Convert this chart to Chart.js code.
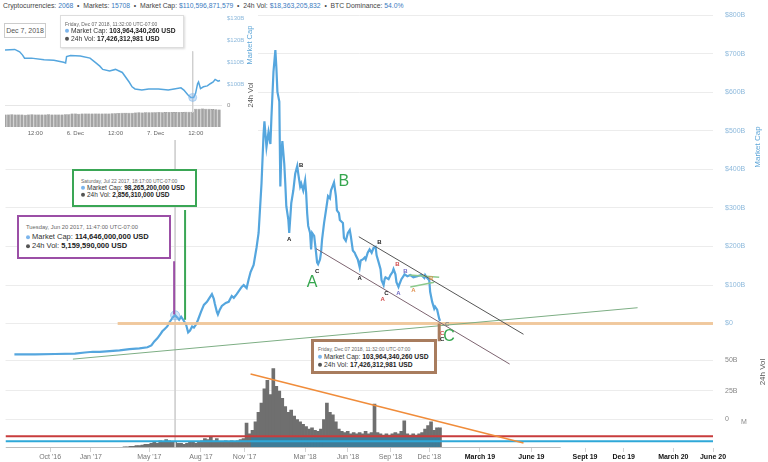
<!DOCTYPE html>
<html>
<head>
<meta charset="utf-8">
<script src="https://cdn.jsdelivr.net/npm/chart.js@4.4.1/dist/chart.umd.min.js"></script>
<style>
  html, body { margin: 0; padding: 0; background: #fff; }
  body { width: 768px; height: 462px; position: relative; overflow: hidden;
         font-family: "Liberation Sans", Arial, sans-serif; }
  #main { position: absolute; left: 0; top: 0; }
  #inset { position: absolute; left: 0; top: 12px; background: #fff; }
  #header { position: absolute; left: 0; top: 0; height: 12px; line-height: 12px; padding: 0 3px;
            font-size: 6.8px; color: #444; background: #fff; white-space: nowrap; }
  #header b { color: #3b7bc0; font-weight: normal; }
  .box { position: absolute; background: #fff; box-sizing: border-box; }
  .box div { position: absolute; white-space: nowrap; line-height: 1; transform: translateY(-50%); color: #333; }
  .box .d { color: #666; }
  .box b { color: #222; }
  .dot { display: inline-block; width: 4px; height: 4px; border-radius: 50%; margin-right: 2px; vertical-align: middle; }
  .mc { background: #7cb5ec; }
  .vo { background: #555; }
  .vt { position: absolute; white-space: nowrap; transform: translate(-50%, -50%) rotate(-90deg); }
  .datebox { position: absolute; left: 4px; top: 23px; width: 42px; height: 15px; box-sizing: border-box;
             border: 1px solid #ccc; font-size: 7px; color: #555; text-align: center; line-height: 13px; background: #fff; }
</style>
</head>
<body>
<canvas id="main" width="768" height="462"></canvas>
<canvas id="inset" width="258" height="128"></canvas>

<div id="header">Cryptocurrencies: <b>2068</b> &nbsp;•&nbsp; Markets: <b>15708</b> &nbsp;•&nbsp; Market Cap: <b>$110,596,871,579</b> &nbsp;•&nbsp; 24h Vol: <b>$18,363,205,832</b> &nbsp;•&nbsp; BTC Dominance: <b>54.0%</b></div>

<div class="datebox">Dec 7, 2018</div>
<div class="box" style="left:60px;top:15px;width:124px;height:33px;border:1px solid #ddd;box-shadow:1px 1px 2px rgba(0,0,0,.15)">
  <div class="d" style="left:4px;top:8px;font-size:5px">Friday, Dec 07 2018, 11:32:00 UTC-07:00</div>
  <div style="left:4px;top:15px;font-size:6.7px"><span class="dot mc"></span>Market Cap: <b>103,964,340,260 USD</b></div>
  <div style="left:4px;top:23px;font-size:6.7px"><span class="dot vo"></span>24h Vol: <b>17,426,312,981 USD</b></div>
</div>
<div class="vt" style="left:249px;top:45px;font-size:7.5px;color:#5ea6d8">Market Cap</div>
<div class="vt" style="left:250px;top:95px;font-size:7.5px;color:#555">24h Vol</div>

<div class="box" style="left:72px;top:169px;width:125px;height:38px;border:2px solid #3aa655">
  <div class="d" style="left:7px;top:10px;font-size:5px">Saturday, Jul 22 2017, 18:17:00 UTC-07:00</div>
  <div style="left:7px;top:17px;font-size:6.5px"><span class="dot mc"></span>Market Cap: <b>98,265,200,000 USD</b></div>
  <div style="left:7px;top:24px;font-size:6.5px"><span class="dot vo"></span>24h Vol: <b>2,856,310,000 USD</b></div>
</div>
<div class="box" style="left:17px;top:215px;width:154px;height:44px;border:2px solid #9b4fa6">
  <div class="d" style="left:7px;top:11px;font-size:5.8px">Tuesday, Jun 20 2017, 11:47:00 UTC-07:00</div>
  <div style="left:7px;top:20px;font-size:7.5px"><span class="dot mc"></span>Market Cap: <b>114,646,000,000 USD</b></div>
  <div style="left:7px;top:29px;font-size:7.5px"><span class="dot vo"></span>24h Vol: <b>5,159,590,000 USD</b></div>
</div>
<div class="box" style="left:311px;top:339px;width:126px;height:35px;border:3px solid #a87c5e">
  <div class="d" style="left:4px;top:7px;font-size:5px">Friday, Dec 07 2018, 11:32:00 UTC-07:00</div>
  <div style="left:4px;top:15px;font-size:6.7px"><span class="dot mc"></span>Market Cap: <b>103,964,340,260 USD</b></div>
  <div style="left:4px;top:23px;font-size:6.7px"><span class="dot vo"></span>24h Vol: <b>17,426,312,981 USD</b></div>
</div>

<div class="vt" style="left:757px;top:147px;font-size:8px;color:#5ea6d8">Market Cap</div>
<div class="vt" style="left:762px;top:372px;font-size:8px;color:#555">24h Vol</div>
<div style="position:absolute;left:741px;top:418px;font-size:7px;color:#888">M</div>

<script>
  'use strict';

  // ---- main chart: months after 1 Oct 2016 on x ----
  const xTickVals = [0, 2.79, 6.80, 10.34, 13.33, 17.48, 20.41, 23.33, 25.99, 29.46, 32.99, 36.67, 39.32, 42.72, 45.44];
  const xTickLabels = ["Oct '16", "Jan '17", "May '17", "Aug '17", "Nov '17", "Mar '18", "Jun '18", "Sep '18", "Dec '18",
                       'March 19', 'June 19', 'Sept 19', 'Dec 19', 'March 20', 'June 20'];

  // right-hand labels (market cap grid, then the volume grid below it)
  const mcTickVals = [800, 700, 600, 500, 400, 300, 200, 100, 0];
  const mcTickLabels = ['$800B', '$700B', '$600B', '$500B', '$400B', '$300B', '$200B', '$100B', '$0'];
  const volGridVals = [-94.9, -174.4, -248.7];
  const volGridLabels = ['50B', '25B', '0'];

  // total market cap, billions USD
  const mcMonths = [-2.45,-1.02,0.34,1.70,2.38,2.93,3.40,4.08,4.76,5.44,
    6.12,6.67,6.94,7.14,7.35,7.55,7.69,7.82,8.03,8.16,
    8.30,8.44,8.57,8.71,8.84,8.98,9.12,9.32,9.46,9.59,
    9.73,9.86,10.00,10.14,10.34,10.54,10.75,10.88,11.09,11.22,
    11.29,11.43,11.50,11.63,11.77,12.04,12.24,12.45,12.59,12.79,
    12.99,13.13,13.27,13.47,13.61,13.74,13.95,14.15,14.29,14.49,
    14.63,14.69,14.83,14.97,15.10,15.17,15.31,15.44,15.51,15.58,
    15.71,15.78,15.85,15.92,16.05,16.12,16.19,16.33,16.39,16.53,
    16.67,16.80,16.94,17.01,17.14,17.21,17.35,17.48,17.55,17.62,
    17.69,17.82,17.89,17.96,18.10,18.23,18.30,18.37,18.50,18.57,
    18.64,18.78,18.91,19.05,19.18,19.25,19.46,19.59,19.66,19.80,
    19.86,20.07,20.14,20.27,20.41,20.54,20.61,20.75,20.88,20.95,
    21.09,21.22,21.29,21.43,21.56,21.63,21.77,21.90,22.04,22.18,
    22.31,22.38,22.52,22.65,22.72,22.86,22.93,22.99,23.20,23.33,
    23.47,23.54,23.67,23.74,23.88,23.95,24.08,24.22,24.29,24.49,
    24.69,24.90,25.17,25.44,25.65,25.71,25.85,25.99,26.05,26.19,
    26.33,26.39,26.53,26.67,26.73];
  const mcValues = [10,10,11,12,15,17,17,19,21,24,
    26,29,34,45,53,64,72,77,85,95,
    103,111,115,109,103,111,103,90,69,74,
    85,82,90,103,124,143,151,159,172,159,
    146,124,117,130,140,148,151,167,162,172,
    183,191,196,188,212,231,250,297,336,469,
    601,636,567,607,575,647,769,827,779,715,
    689,461,548,583,522,469,408,371,336,416,
    450,495,516,495,461,469,450,477,443,389,
    355,336,292,336,328,283,257,252,265,283,
    318,363,397,435,429,450,472,435,397,389,
    371,363,323,315,336,344,328,289,283,276,
    265,244,262,265,270,265,283,292,283,297,
    299,276,257,239,209,196,212,217,212,223,
    231,239,225,204,191,199,212,220,225,220,
    223,217,220,223,215,223,215,209,178,151,
    133,138,130,106,100];

  // 24h volume, billions USD, one bar every ~6 days from mid Feb 2017
  const volStart = 5.10;
  const volStep = 0.204;
  const volValues = [1,1,1.5,1.5,2,2,2.5,3,
    3,4,5,4,6,5,7,6,5,
    5,4,4,3,4,5,5,4,5,6,8,7,9,6,8,5,5,6,5,6,5,6,7,8,
    21,12,15,22,30,38,50,57,45,67,
    52,48,42,35,30,32,27,24,22,20,
    18,16,17,15,14,16,24,38,30,28,
    22,16,14,13,14,12,13,12,13,12,
    14,12,13,37,13,12,11,12,11,12,
    13,12,14,23,12,11,12,11,12,13,
    16,19,22,15,17,17];

  // hand-drawn annotation lines, [month, value]
  const capFloor = [[4.63, 92.8], [45.44, 92.8]];
  const longTrend = [[1.56, -2.7], [40.27, 135.3]];
  const channelUpper = [[21.16, 326], [32.45, 64]];
  const channelLower = [[18.23, 294], [31.50, -16]];
  const flagTop = [[24.63, 223], [26.67, 217]];
  const flagBottom = [[24.69, 191], [26.33, 204]];
  const junDrop = [[8.50, 260], [8.50, 117]];
  const julDrop = [[9.25, 398], [9.25, 103]];
  const decDrop = [[26.67, 93], [26.67, 45]];
  const hoverMark = [[8.57, 115]];
  const crossHair = [[8.57, 261], [8.57, 0]];
  const volTrend = [[13.74, 62.5], [32.45, 4.2]];
  const volRed = [[-3.06, 10], [45.44, 10]];
  const volCyan = [[-3.06, 5.8], [45.44, 5.8]];
  const volBand = [[13.74, 9], [26.75, 9]];
  const volBase = [[-3.06, 0], [35.0, 0]];

  // Elliott wave letters
  const waveText = ['B','A','C','A','B','C','B','A','B','A','A','B','C','C','C','B','A','C'];
  const waveX = [17.21,16.39,18.30,21.22,22.58,23.06,23.81,22.79,24.35,23.88,24.90,26.12,27.21,26.87,26.87,20.14,17.96,27.35];
  const waveY = [517,318,233,215,310,175,252,159,233,175,183,215,90,66,50,475,202,58];
  const waveDegree = ['k','k','k','k','k','k','r','r','p','p','o','o','g','r','k','G','G','G'];

  // ---- inset: hours after 5 Dec 2018 00:00 ----
  const insetTickVals = [12, 24, 36, 48, 60];
  const insetTickLabels = ['12:00', '6. Dec', '12:00', '7. Dec', '12:00'];
  const insetAxisVals = [130, 120, 110, 100, 90.3];
  const insetAxisLabels = ['$130B', '$120B', '$110B', '$100B', '0'];
  const insetHours = [2.95,5.87,7.33,8.21,8.80,10.84,14.64,17.57,20.49,21.08,
    21.37,22.54,25.46,28.39,30.14,31.31,32.19,34.23,35.99,38.04,
    40.08,40.96,41.84,43.88,45.93,48.85,51.78,53.53,55.58,56.46,
    57.63,58.50,59.38,59.96,60.55,60.84,61.43,62.30,63.47,64.35,
    65.23,65.81,66.69,67.27];
  const insetCap = [115.6,115.9,114.8,113.3,111.9,111.9,111.1,110.9,110.0,109.7,
    112.6,113.1,112.9,111.9,109.7,108.2,106.7,106.0,106.7,105.3,
    100.9,98.7,97.7,97.2,97.7,97.7,97.2,97.7,98.2,97.2,
    95.0,93.8,93.8,95.7,100.1,100.9,97.9,98.7,99.1,100.1,
    100.9,102.1,101.3,101.6];
  const insetVolStart = 3;
  const insetVol = [13,13,13.2,13,13.1,13,12.9,13,13.2,13.1,13,13,13.1,13.2,13,13,13.1,13,13.2,13.3,
    14,14,13.8,14,14.1,14,14,14.2,14,14.1,14,14.2,14.3,14.5,14.6,14.8,15,15,
    15,15.2,15.3,15.2,15.4,15.5,15.4,15.5,15.6,15.5,15.6,15.7,15.6,15.8,15.7,15.8,16,16,16,
    19,19.2,19.3,19.2,19,18.8,18.5,18.3];
  const insetCross = [[59.09, 115], [59.09, 86.8]];
  const insetMark = [[59.09, 93.8]];

  Chart.defaults.font.family = '"Liberation Sans", Arial, sans-serif';

  const waveStyles = {
    k: { color: '#222', font: 'bold 6px "Liberation Sans", Arial' },
    r: { color: '#d04848', font: 'bold 6px "Liberation Sans", Arial' },
    p: { color: '#6e68c4', font: 'bold 6px "Liberation Sans", Arial' },
    o: { color: '#e0904e', font: 'bold 6px "Liberation Sans", Arial' },
    g: { color: '#888', font: 'bold 6px "Liberation Sans", Arial' },
    G: { color: '#35a64e', font: '16px "Liberation Sans", Arial' },
  };

  function toXY(points) {
    return points.map((p) => ({ x: p[0], y: p[1] }));
  }

  function seg(points, axis, color, width, order) {
    return {
      type: 'line', data: toXY(points), yAxisID: axis,
      borderColor: color, borderWidth: width, pointRadius: 0, fill: false, order,
    };
  }

  // keep tick-label padding from shrinking the plot area
  function noPad(ax) {
    ax.paddingTop = 0;
    ax.paddingBottom = 0;
    ax.paddingLeft = 0;
    ax.paddingRight = 0;
  }

  const waveLabelPlugin = {
    id: 'waveLabels',
    afterDatasetsDraw(chart) {
      const { ctx, scales } = chart;
      ctx.save();
      ctx.textAlign = 'center';
      ctx.textBaseline = 'middle';
      waveText.forEach((t, i) => {
        const st = waveStyles[waveDegree[i]];
        ctx.font = st.font;
        ctx.fillStyle = st.color;
        ctx.fillText(t, scales.x.getPixelForValue(waveX[i]), scales.yMC.getPixelForValue(waveY[i]));
      });
      ctx.restore();
    },
  };

  const rightVals = mcTickVals.concat(volGridVals);
  const rightLabels = mcTickLabels.concat(volGridLabels);

  new Chart(document.getElementById('main'), {
    data: {
      datasets: [
        {
          type: 'bar', yAxisID: 'yV', order: 20,
          data: volValues.map((v, i) => ({ x: volStart + i * volStep, y: v })),
          backgroundColor: '#6f6f6f', barThickness: 3,
        },
        Object.assign(seg(volBand, 'yV', 'rgba(0,0,0,0)', 0, 19), { fill: 'origin', backgroundColor: 'rgba(58,125,155,0.9)' }),
        seg(crossHair, 'yV', '#d0d0d0', 1, 18),
        seg(volBase, 'yV', '#bdbdbd', 2, 18),
        {
          type: 'line', yAxisID: 'yMC', order: 10,
          data: mcMonths.map((m, i) => ({ x: m, y: mcValues[i] })),
          borderColor: '#55a6de', borderWidth: 2.2, pointRadius: 0, tension: 0, fill: false,
        },
        Object.assign(seg(hoverMark, 'yMC', 'rgba(124,181,236,0.6)', 1, 9),
          { pointRadius: 4.5, pointBackgroundColor: 'rgba(124,181,236,0.35)', pointBorderColor: 'rgba(124,181,236,0.6)' }),
        seg(capFloor, 'yMC', 'rgba(240,196,150,0.9)', 3, 8),
        seg(longTrend, 'yMC', '#7dae84', 1, 5),
        seg(channelUpper, 'yMC', '#555', 1, 4),
        seg(channelLower, 'yMC', '#7d6470', 1, 4),
        seg(flagTop, 'yMC', '#8cc98c', 1.5, 4),
        seg(flagBottom, 'yMC', '#8cc98c', 1.5, 4),
        seg(junDrop, 'yMC', '#9b4fa6', 2, 3),
        seg(julDrop, 'yMC', '#3aa655', 2, 3),
        seg(decDrop, 'yMC', '#a87c5e', 3, 3),
        seg(volTrend, 'yV', '#f08c3a', 1.5, 2),
        seg(volRed, 'yV', '#c83c3c', 2, 2),
        seg(volCyan, 'yV', '#2fa8d8', 2, 2),
      ],
    },
    options: {
      responsive: false, animation: false, events: [],
      layout: { padding: 0 },
      plugins: { legend: { display: false }, tooltip: { enabled: false } },
      scales: {
        x: {
          type: 'linear', min: -3.06, max: 45.44, offset: false,
          afterBuildTicks: (ax) => { ax.ticks = xTickVals.map((v) => ({ value: v })); },
          afterFit: (ax) => { ax.height = 14; noPad(ax); },
          ticks: {
            autoSkip: false, maxRotation: 0, padding: 1,
            callback: (v, i) => xTickLabels[i],
            color: (c) => (c.index >= 9 ? '#111' : '#777'),
            font: (c) => ({ size: 7, weight: c.index >= 9 ? 'bold' : 'normal' }),
          },
          grid: { drawOnChartArea: false, tickLength: 4, color: '#d4d4d4', offset: false },
          border: { display: false },
        },
        yR: {
          type: 'linear', position: 'right', min: -323.08, max: 825.64,
          afterBuildTicks: (ax) => { ax.ticks = rightVals.map((v) => ({ value: v })); },
          afterFit: (ax) => { ax.width = 55; noPad(ax); },
          ticks: {
            autoSkip: false, padding: 12,
            callback: (v, i) => rightLabels[i],
            color: (c) => (c.index >= mcTickVals.length ? '#888' : '#8db9dc'),
            font: { size: 7 },
          },
          grid: { color: '#ececec', drawTicks: false },
          border: { display: false },
        },
        yMC: { type: 'linear', display: false, min: -241.4, max: 946.9 },
        yV: { type: 'linear', display: false, min: 0, max: 373.33 },
      },
    },
    plugins: [waveLabelPlugin],
  });

  new Chart(document.getElementById('inset'), {
    data: {
      datasets: [
        {
          type: 'bar', yAxisID: 'yIV', order: 10,
          data: insetVol.map((v, i) => ({ x: insetVolStart + i, y: v })),
          backgroundColor: '#a3a3a3', borderColor: '#7a7a7a', borderWidth: 0.5,
          barPercentage: 0.95, categoryPercentage: 1,
        },
        seg(insetCross, 'yIM', '#cfcfcf', 1, 8),
        {
          type: 'line', yAxisID: 'yIM', order: 5,
          data: insetHours.map((h, i) => ({ x: h, y: insetCap[i] })),
          borderColor: '#55a6de', borderWidth: 1.5, pointRadius: 0, tension: 0, fill: false,
        },
        Object.assign(seg(insetMark, 'yIM', 'rgba(124,181,236,0.6)', 1, 4),
          { pointRadius: 4, pointBackgroundColor: 'rgba(124,181,236,0.4)', pointBorderColor: 'rgba(124,181,236,0.5)' }),
      ],
    },
    options: {
      responsive: false, animation: false, events: [],
      layout: { padding: 0 },
      plugins: { legend: { display: false }, tooltip: { enabled: false } },
      scales: {
        x: {
          type: 'linear', min: 2.95, max: 67.86, offset: false,
          afterBuildTicks: (ax) => { ax.ticks = insetTickVals.map((v) => ({ value: v })); },
          afterFit: (ax) => { ax.height = 13; noPad(ax); },
          ticks: { autoSkip: false, maxRotation: 0, padding: 3, callback: (v, i) => insetTickLabels[i],
                   color: '#666', font: { size: 6 } },
          grid: { display: false, drawTicks: false, offset: false },
          border: { display: false },
        },
        yIR: {
          type: 'linear', position: 'right', min: 80.18, max: 130.84,
          afterBuildTicks: (ax) => { ax.ticks = insetAxisVals.map((v) => ({ value: v })); },
          afterFit: (ax) => { ax.width = 36; noPad(ax); },
          ticks: { autoSkip: false, padding: 5, callback: (v, i) => insetAxisLabels[i],
                   color: (c) => (c.index === 4 ? '#888' : '#8db9dc'), font: { size: 6 } },
          grid: { drawTicks: false, color: (c) => (c.index === 4 ? '#e6e6e6' : 'rgba(0,0,0,0)') },
          border: { display: false },
        },
        yIM: { type: 'linear', display: false, min: 80.18, max: 130.84 },
        yIV: { type: 'linear', display: false, min: 0, max: 115 },
      },
    },
  });
</script>
</body>
</html>
